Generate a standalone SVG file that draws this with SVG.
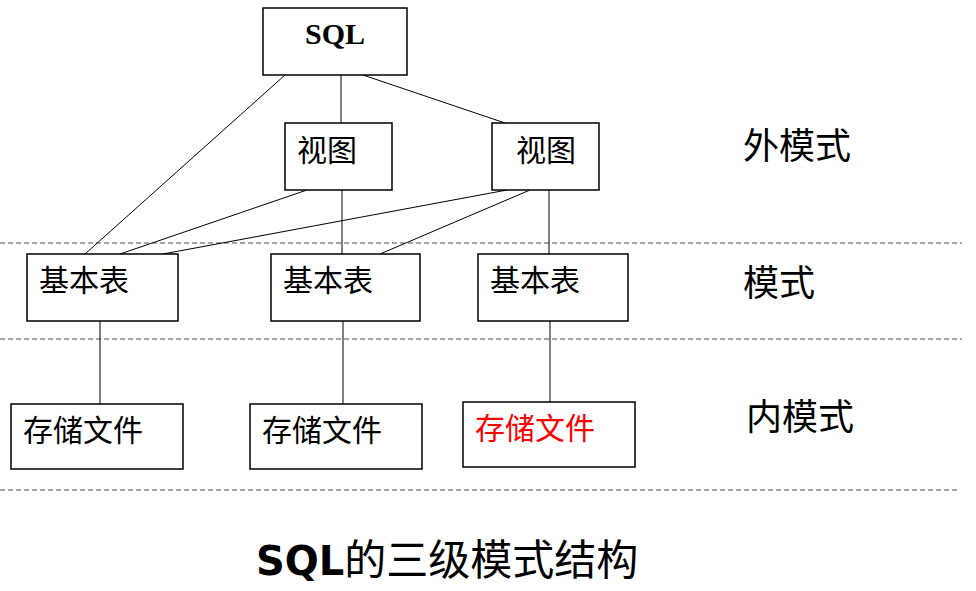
<svg xmlns="http://www.w3.org/2000/svg" width="976" height="591" viewBox="0 0 976 591">
<style>
.box{fill:#fff;stroke:#000;stroke-width:1.5}
.ln{stroke:#000;stroke-width:1;fill:none}
.dash{stroke:#888;stroke-width:1.5;stroke-dasharray:5 3;fill:none}
.cjk{font-family:"Liberation Serif","Noto Sans CJK SC",serif;font-size:30px;fill:#000}
.lvl{font-family:"Liberation Serif","Noto Sans CJK SC",serif;font-size:36px;fill:#000}
</style>
<rect width="976" height="591" fill="#fff"/>
<g id="separators">
<line class="dash" x1="0" y1="243" x2="962" y2="243"/>
<line class="dash" x1="0" y1="339" x2="962" y2="339"/>
<line class="dash" x1="0" y1="490" x2="958" y2="490"/>
</g>
<g id="connectors">
<line class="ln" x1="285" y1="75" x2="85" y2="254"/>
<line class="ln" x1="341" y1="75" x2="341" y2="123"/>
<line class="ln" x1="363" y1="75" x2="505" y2="123"/>
<line class="ln" x1="307" y1="190" x2="120" y2="254"/>
<line class="ln" x1="507" y1="190" x2="163" y2="254"/>
<line class="ln" x1="342" y1="190" x2="342" y2="254"/>
<line class="ln" x1="530" y1="190" x2="380" y2="254"/>
<line class="ln" x1="549" y1="190" x2="549" y2="254"/>
<line class="ln" x1="100" y1="321" x2="100" y2="404"/>
<line class="ln" x1="343" y1="321" x2="343" y2="404"/>
<line class="ln" x1="550" y1="321" x2="550" y2="402"/>
</g>
<g id="sql">
<rect class="box" x="263" y="8" width="144" height="67"/>
<text x="335" y="44" text-anchor="middle" font-family="Liberation Serif,serif" font-weight="bold" font-size="30">SQL</text>
</g>
<g id="view1">
<rect class="box" x="285" y="123" width="107" height="67"/>
<text class="cjk" x="297" y="161">视图</text>
</g>
<g id="view2">
<rect class="box" x="492" y="123" width="107" height="67"/>
<text class="cjk" x="516" y="161">视图</text>
</g>
<g id="base1">
<rect class="box" x="27" y="254" width="151" height="67"/>
<text class="cjk" x="39" y="291">基本表</text>
</g>
<g id="base2">
<rect class="box" x="271" y="254" width="149" height="67"/>
<text class="cjk" x="283" y="291">基本表</text>
</g>
<g id="base3">
<rect class="box" x="478" y="254" width="150" height="67"/>
<text class="cjk" x="490" y="291">基本表</text>
</g>
<g id="file1">
<rect class="box" x="11" y="404" width="172" height="65"/>
<text class="cjk" x="23" y="441">存储文件</text>
</g>
<g id="file2">
<rect class="box" x="250" y="404" width="172" height="65"/>
<text class="cjk" x="262" y="441">存储文件</text>
</g>
<g id="file3">
<rect class="box" x="463" y="402" width="172" height="65"/>
<text class="cjk" x="475" y="439" fill="#ff0000" style="fill:#ff0000">存储文件</text>
</g>
<g id="levels">
<text class="lvl" x="743" y="159">外模式</text>
<text class="lvl" x="743" y="296">模式</text>
<text class="lvl" x="746" y="430">内模式</text>
</g>
<g id="title">
<text x="256" y="575" font-size="42" font-family="'Noto Sans CJK SC',sans-serif"><tspan font-family="'DejaVu Sans',sans-serif" font-weight="bold" font-size="40">SQL</tspan>的三级模式结构</text>
</g>
</svg>
